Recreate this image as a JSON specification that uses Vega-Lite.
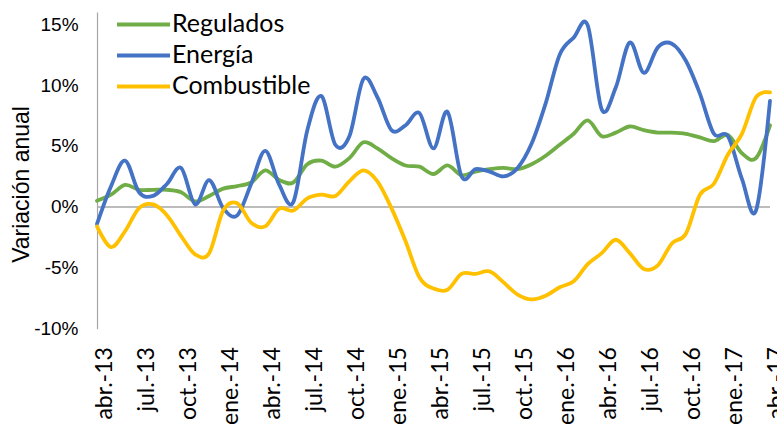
{
  "$schema": "https://vega.github.io/schema/vega-lite/v6.json",
  "width": 673,
  "height": 316.7,
  "autosize": {"type": "none"},
  "padding": {"left": 97, "top": 12, "right": 7, "bottom": 99},
  "background": "white",
  "config": {"view": {"stroke": null}},
  "layer": [
    {
      "data": {"values": [{"cero": 0}]},
      "mark": {"type": "rule", "color": "#a6a6a6", "strokeWidth": 1.5},
      "encoding": {"y": {"field": "cero", "type": "quantitative"}}
    },
    {
      "data": {"values": [
        {"mes": "abr.-13", "Regulados": 0.5, "Energía": -1.4, "Combustible": -1.6},
        {"mes": "may.-13", "Regulados": 1.0, "Energía": 1.7, "Combustible": -3.3},
        {"mes": "jun.-13", "Regulados": 1.8, "Energía": 3.8, "Combustible": -2.0},
        {"mes": "jul.-13", "Regulados": 1.4, "Energía": 1.2, "Combustible": -0.1},
        {"mes": "ago.-13", "Regulados": 1.4, "Energía": 0.9, "Combustible": 0.2},
        {"mes": "sep.-13", "Regulados": 1.4, "Energía": 1.9, "Combustible": -0.7},
        {"mes": "oct.-13", "Regulados": 1.2, "Energía": 3.2, "Combustible": -2.4},
        {"mes": "nov.-13", "Regulados": 0.45, "Energía": 0.2, "Combustible": -3.9},
        {"mes": "dic.-13", "Regulados": 0.9, "Energía": 2.2, "Combustible": -3.8},
        {"mes": "ene.-14", "Regulados": 1.5, "Energía": -0.1, "Combustible": -0.3},
        {"mes": "feb.-14", "Regulados": 1.7, "Energía": -0.7, "Combustible": 0.3},
        {"mes": "mar.-14", "Regulados": 2.0, "Energía": 1.9, "Combustible": -1.3},
        {"mes": "abr.-14", "Regulados": 3.0, "Energía": 4.6, "Combustible": -1.6},
        {"mes": "may.-14", "Regulados": 2.2, "Energía": 1.8, "Combustible": -0.15},
        {"mes": "jun.-14", "Regulados": 2.0, "Energía": 0.4, "Combustible": -0.3},
        {"mes": "jul.-14", "Regulados": 3.5, "Energía": 6.3, "Combustible": 0.7},
        {"mes": "ago.-14", "Regulados": 3.8, "Energía": 9.1, "Combustible": 1.0},
        {"mes": "sep.-14", "Regulados": 3.3, "Energía": 5.1, "Combustible": 0.9},
        {"mes": "oct.-14", "Regulados": 4.0, "Energía": 5.8, "Combustible": 2.1},
        {"mes": "nov.-14", "Regulados": 5.3, "Energía": 10.5, "Combustible": 3.0},
        {"mes": "dic.-14", "Regulados": 4.8, "Energía": 9.0, "Combustible": 2.1},
        {"mes": "ene.-15", "Regulados": 4.0, "Energía": 6.3, "Combustible": -0.1},
        {"mes": "feb.-15", "Regulados": 3.4, "Energía": 6.7, "Combustible": -2.8},
        {"mes": "mar.-15", "Regulados": 3.3, "Energía": 7.7, "Combustible": -5.8},
        {"mes": "abr.-15", "Regulados": 2.7, "Energía": 4.8, "Combustible": -6.7},
        {"mes": "may.-15", "Regulados": 3.4, "Energía": 7.8, "Combustible": -6.8},
        {"mes": "jun.-15", "Regulados": 2.6, "Energía": 2.5, "Combustible": -5.5},
        {"mes": "jul.-15", "Regulados": 2.9, "Energía": 3.1, "Combustible": -5.5},
        {"mes": "ago.-15", "Regulados": 3.1, "Energía": 2.9, "Combustible": -5.3},
        {"mes": "sep.-15", "Regulados": 3.2, "Energía": 2.5, "Combustible": -6.2},
        {"mes": "oct.-15", "Regulados": 3.1, "Energía": 3.2, "Combustible": -7.2},
        {"mes": "nov.-15", "Regulados": 3.5, "Energía": 5.2, "Combustible": -7.6},
        {"mes": "dic.-15", "Regulados": 4.2, "Energía": 8.5, "Combustible": -7.3},
        {"mes": "ene.-16", "Regulados": 5.1, "Energía": 12.5, "Combustible": -6.6},
        {"mes": "feb.-16", "Regulados": 6.0, "Energía": 13.9, "Combustible": -6.1},
        {"mes": "mar.-16", "Regulados": 7.1, "Energía": 14.9, "Combustible": -4.7},
        {"mes": "abr.-16", "Regulados": 5.8, "Energía": 8.0, "Combustible": -3.8},
        {"mes": "may.-16", "Regulados": 6.1, "Energía": 9.8, "Combustible": -2.7},
        {"mes": "jun.-16", "Regulados": 6.6, "Energía": 13.5, "Combustible": -3.8},
        {"mes": "jul.-16", "Regulados": 6.3, "Energía": 11.0, "Combustible": -5.1},
        {"mes": "ago.-16", "Regulados": 6.1, "Energía": 13.1, "Combustible": -4.8},
        {"mes": "sep.-16", "Regulados": 6.1, "Energía": 13.4, "Combustible": -3.0},
        {"mes": "oct.-16", "Regulados": 6.0, "Energía": 12.0, "Combustible": -2.2},
        {"mes": "nov.-16", "Regulados": 5.7, "Energía": 9.3, "Combustible": 1.0},
        {"mes": "dic.-16", "Regulados": 5.4, "Energía": 6.0, "Combustible": 1.9},
        {"mes": "ene.-17", "Regulados": 5.9, "Energía": 5.8, "Combustible": 4.3},
        {"mes": "feb.-17", "Regulados": 4.4, "Energía": 2.3, "Combustible": 6.0},
        {"mes": "mar.-17", "Regulados": 4.0, "Energía": -0.3, "Combustible": 9.0},
        {"mes": "abr.-17", "Regulados": 6.7, "Energía": 8.7, "Combustible": 9.4}
      ]},
      "transform": [{"fold": ["Regulados", "Energía", "Combustible"], "as": ["serie", "valor"]}],
      "mark": {"type": "line", "interpolate": "cardinal", "strokeWidth": 3.8, "strokeCap": "round", "strokeJoin": "round"},
      "encoding": {
        "x": {
          "field": "mes", "type": "ordinal", "sort": null,
          "scale": {"type": "point", "padding": 0},
          "axis": {
            "values": ["abr.-13", "jul.-13", "oct.-13", "ene.-14", "abr.-14", "jul.-14", "oct.-14", "ene.-15", "abr.-15", "jul.-15", "oct.-15", "ene.-16", "abr.-16", "jul.-16", "oct.-16", "ene.-17", "abr.-17"],
            "labelAngle": -90, "labelAlign": "right", "labelBaseline": "middle",
            "domain": false, "ticks": false,
            "labelFont": "Lato", "labelFontSize": 23, "labelColor": "black",
            "labelPadding": 18, "labelOffset": 7, "labelOverlap": false, "title": null
          }
        },
        "y": {
          "field": "valor", "type": "quantitative",
          "scale": {"domain": [-10, 16], "nice": false, "zero": false},
          "axis": {
            "values": [-10, -5, 0, 5, 10, 15],
            "labelExpr": "datum.value + '%'",
            "grid": false, "ticks": false,
            "domainColor": "#a6a6a6", "domainWidth": 1.2,
            "labelFont": "Liberation Sans", "labelFontSize": 19, "labelColor": "black", "labelPadding": 19,
            "title": "Variación anual", "titleFont": "Liberation Sans", "titleFontSize": 23,
            "titleFontWeight": "normal", "titleColor": "black", "titlePadding": 0, "titleY": 172
          }
        },
        "color": {
          "field": "serie", "type": "nominal",
          "scale": {"domain": ["Regulados", "Energía", "Combustible"], "range": ["#70AD47", "#4472C4", "#FFC000"]},
          "legend": {
            "orient": "none", "legendX": 31, "legendY": -3, "title": null,
            "symbolType": "M-2,0H2", "symbolSize": 702, "symbolStrokeWidth": 4,
            "symbolFillColor": "transparent",
            "labelFont": "Lato", "labelFontSize": 25, "labelColor": "black",
            "labelOffset": 13, "rowPadding": 2, "labelLimit": 400
          }
        }
      }
    }
  ]
}
